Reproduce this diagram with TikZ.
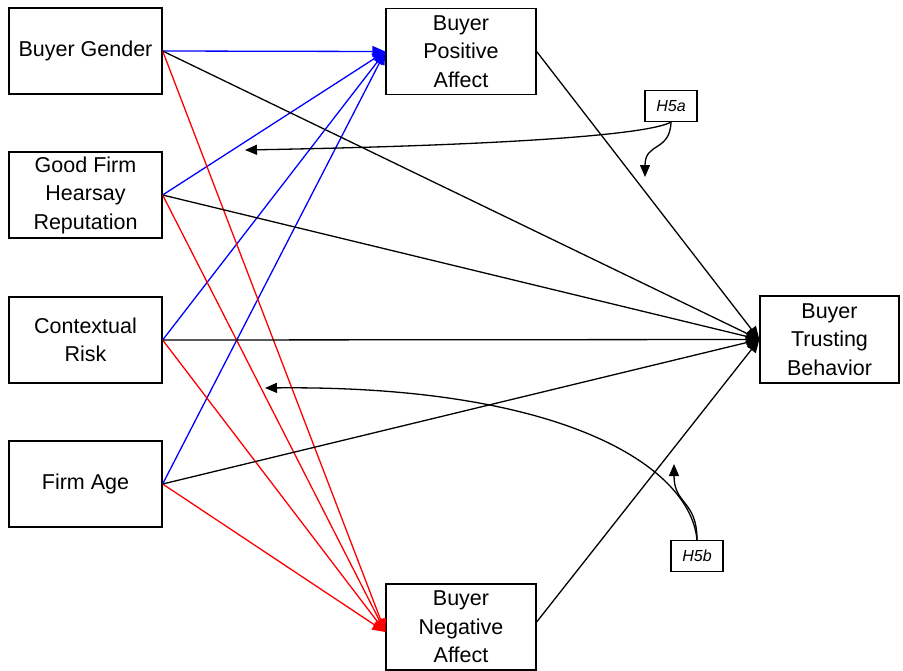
\documentclass[tikz,border=0pt]{standalone}
\usepackage{fontspec}
\setmainfont{Liberation Sans}
\usetikzlibrary{arrows.meta}
\tikzset{
  box/.style={draw, line width=1.3pt, fill=white, align=center, inner sep=0pt,
    font=\fontsize{21.5}{28.5}\selectfont},
  leftbox/.style={box, minimum width=153pt, minimum height=86pt},
  midbox/.style={box, minimum width=150pt, minimum height=86pt},
  hyp/.style={draw, line width=1.1pt, fill=white, inner sep=0pt,
    minimum width=52pt, minimum height=31pt, font=\fontsize{16}{18}\selectfont\itshape},
  path/.style={line width=1.3pt, -{Triangle[length=13pt,width=11pt]}},
  posarrow/.style={path, blue},
  negarrow/.style={path, red},
  trustarrow/.style={path, black},
  modarrow/.style={line width=1.3pt, -{Triangle[length=12pt,width=10pt]}}
}
\begin{document}
\begin{tikzpicture}[x=1pt,y=-1pt]
\useasboundingbox (0,0) rectangle (903,670);

% predictors
\node[leftbox] (gender)  at (85.5,51)  {Buyer Gender};
\node[leftbox] (hearsay) at (85.5,195) {Good Firm\\Hearsay\\Reputation};
\node[leftbox] (risk)    at (85.5,340) {Contextual\\Risk};
\node[leftbox] (age)     at (85.5,484) {Firm Age};

% mediators and outcome
\node[midbox] (pos)   at (461,51.5) {Buyer\\Positive\\Affect};
\node[midbox] (neg)   at (461,627)  {Buyer\\Negative\\Affect};
\node[box, minimum width=139pt, minimum height=87pt] (trust) at (829.5,339.5) {Buyer\\Trusting\\Behavior};

% paths to positive affect
\foreach \s in {gender,hearsay,risk,age}
  \draw[posarrow] (\s.east) -- (pos.west);

% paths to negative affect
\foreach \s in {gender,hearsay,risk,age}
  \draw[negarrow] (\s.east) -- ([yshift=-5pt]neg.west);

% paths to trusting behavior
\foreach \s in {gender,hearsay,risk,age}
  \draw[trustarrow] (\s.east) -- (trust.west);
\draw[trustarrow] (pos.east) -- (trust.west);
\draw[trustarrow] ([yshift=5pt]neg.east) -- (trust.west);

% moderation hypotheses
\node[hyp] (h5a) at (671,106) {H5a};
\node[hyp] (h5b) at (697,556) {H5b};

\coordinate (h5aleft)  at (245,150);
\coordinate (h5adown)  at (645,177);
\coordinate (h5bleft)  at (265,388);
\coordinate (h5bup)    at (674,464);

\draw[modarrow] (h5a.south) .. controls (650,134) and (520,145) .. (h5aleft);
\draw[modarrow] (h5a.south) .. controls (670,152) and (645,142) .. (h5adown);
\draw[modarrow] (h5b.north) .. controls (690,465) and (560,385) .. (h5bleft);
\draw[modarrow] (h5b.north) .. controls (697,500) and (674,505) .. (h5bup);
\end{tikzpicture}
\end{document}
